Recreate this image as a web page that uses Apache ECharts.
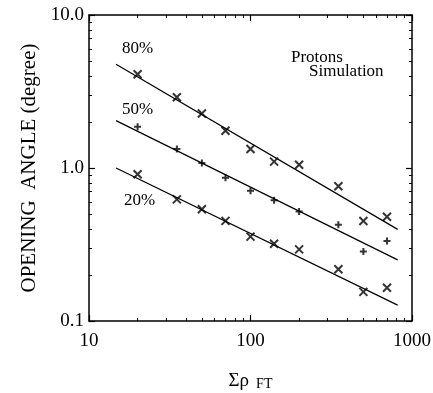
<!DOCTYPE html>
<html>
<head>
<meta charset="utf-8">
<script src="https://cdn.jsdelivr.net/npm/echarts@6/dist/echarts.min.js"></script>
<style>
  html, body { margin: 0; padding: 0; background: #fff; }
  #chart { width: 433px; height: 393px; }
</style>
</head>
<body>
<div id="chart"></div>
<script>
// sum of rho_FT values
const sumRho = [20, 35, 50, 70, 100, 140, 200, 350, 500, 700];
const angle80 = [4.1, 2.9, 2.27, 1.75, 1.33, 1.10, 1.05, 0.76, 0.45, 0.48];
const angle50 = [1.86, 1.33, 1.08, 0.865, 0.71, 0.615, 0.52, 0.426, 0.285, 0.333];
const angle20 = [0.91, 0.624, 0.537, 0.451, 0.356, 0.32, 0.294, 0.218, 0.155, 0.165];
// fitted lines (end points)
const fitX = [14.7, 815];
const fit80 = [4.77, 0.397];
const fit50 = [2.04, 0.251];
const fit20 = [1.0, 0.127];
// minor tick positions
const xMinor = [20, 30, 40, 50, 60, 70, 80, 90, 200, 300, 400, 500, 600, 700, 800, 900];
const yMinor = [0.2, 0.3, 0.4, 0.5, 0.6, 0.7, 0.8, 0.9, 2, 3, 4, 5, 6, 7, 8, 9];

const serif = 'Liberation Serif';
const crossPath = 'path://M0,0L10,10M10,0L0,10';
const plusPath = 'path://M5,0L5,10M0,5L10,5';

function pairs (xs, ys) {
  return xs.map(function (x, i) { return [x, ys[i]] })
}

function pointSeries (ys, symbol, size) {
  return {
    type: 'scatter',
    data: pairs(sumRho, ys),
    symbol: symbol,
    symbolSize: size,
    itemStyle: {
      color: 'none',
      borderColor: '#000',
      borderWidth: 2
    },
    z: 3
  }
}

function fitSeries (ys) {
  return {
    type: 'line',
    data: pairs(fitX, ys),
    symbol: 'none',
    lineStyle: { color: '#000', width: 1.2 },
    silent: true
  }
}

// one log axis; "minor" ones only carry the short ticks
function logAxis (min, max, position, minorValues) {
  const ax = {
    type: 'log',
    logBase: 10,
    min: min,
    max: max,
    position: position,
    axisLine: { show: !minorValues, lineStyle: { color: '#000', width: 1.5 } },
    axisTick: { show: true, inside: true, length: 6, lineStyle: { color: '#000', width: 1.2 } },
    axisLabel: { show: false },
    splitLine: { show: false }
  }
  if (minorValues) {
    ax.axisTick = { show: true, inside: true, length: 3, customValues: minorValues, lineStyle: { color: '#000', width: 1 } }
  }
  return ax
}

const xMain = logAxis(10, 1000, 'bottom')
xMain.axisLabel = {
  show: true,
  color: '#000',
  fontFamily: serif,
  fontSize: 19,
  margin: 11,
  formatter: function (v) { return String(Math.round(v)) }
}
xMain.name = '{a|Σρ}{b|  FT}'
xMain.nameLocation = 'middle'
xMain.nameGap = 50
xMain.nameTextStyle = {
  rich: {
    a: { fontFamily: serif, fontSize: 19, color: '#000' },
    b: { fontFamily: serif, fontSize: 14, color: '#000', padding: [6, 0, 0, 0] }
  }
}

const yMain = logAxis(0.1, 10, 'left')
yMain.axisLabel = {
  show: true,
  color: '#000',
  fontFamily: serif,
  fontSize: 19,
  margin: 5,
  formatter: function (v) { return v.toFixed(1) }
}
yMain.name = 'OPENING  ANGLE (degree)'
yMain.nameLocation = 'middle'
yMain.nameRotate = 90
yMain.nameGap = 35
yMain.nameTextStyle = { fontFamily: serif, fontSize: 21, color: '#000' }

const labelFont = '17px "Liberation Serif"'

const chart = echarts.init(document.getElementById('chart'))
chart.setOption({
  backgroundColor: '#fff',
  animation: false,
  grid: { left: 89, right: 21, top: 15, bottom: 72, outerBoundsMode: 'none' },
  xAxis: [
    xMain,
    logAxis(10, 1000, 'bottom', xMinor),
    logAxis(10, 1000, 'top'),
    logAxis(10, 1000, 'top', xMinor)
  ],
  yAxis: [
    yMain,
    logAxis(0.1, 10, 'left', yMinor),
    logAxis(0.1, 10, 'right'),
    logAxis(0.1, 10, 'right', yMinor)
  ],
  graphic: [
    { type: 'text', left: 122, top: 40, style: { text: '80%', font: labelFont, fill: '#000' } },
    { type: 'text', left: 122, top: 101, style: { text: '50%', font: labelFont, fill: '#000' } },
    { type: 'text', left: 124, top: 192, style: { text: '20%', font: labelFont, fill: '#000' } },
    { type: 'text', left: 291, top: 49, style: { text: 'Protons', font: labelFont, fill: '#000' } },
    { type: 'text', left: 309, top: 63, style: { text: 'Simulation', font: labelFont, fill: '#000' } }
  ],
  series: [
    fitSeries(fit80),
    fitSeries(fit50),
    fitSeries(fit20),
    pointSeries(angle80, crossPath, 8),
    pointSeries(angle50, plusPath, 7),
    pointSeries(angle20, crossPath, 8)
  ]
})
</script>
</body>
</html>
